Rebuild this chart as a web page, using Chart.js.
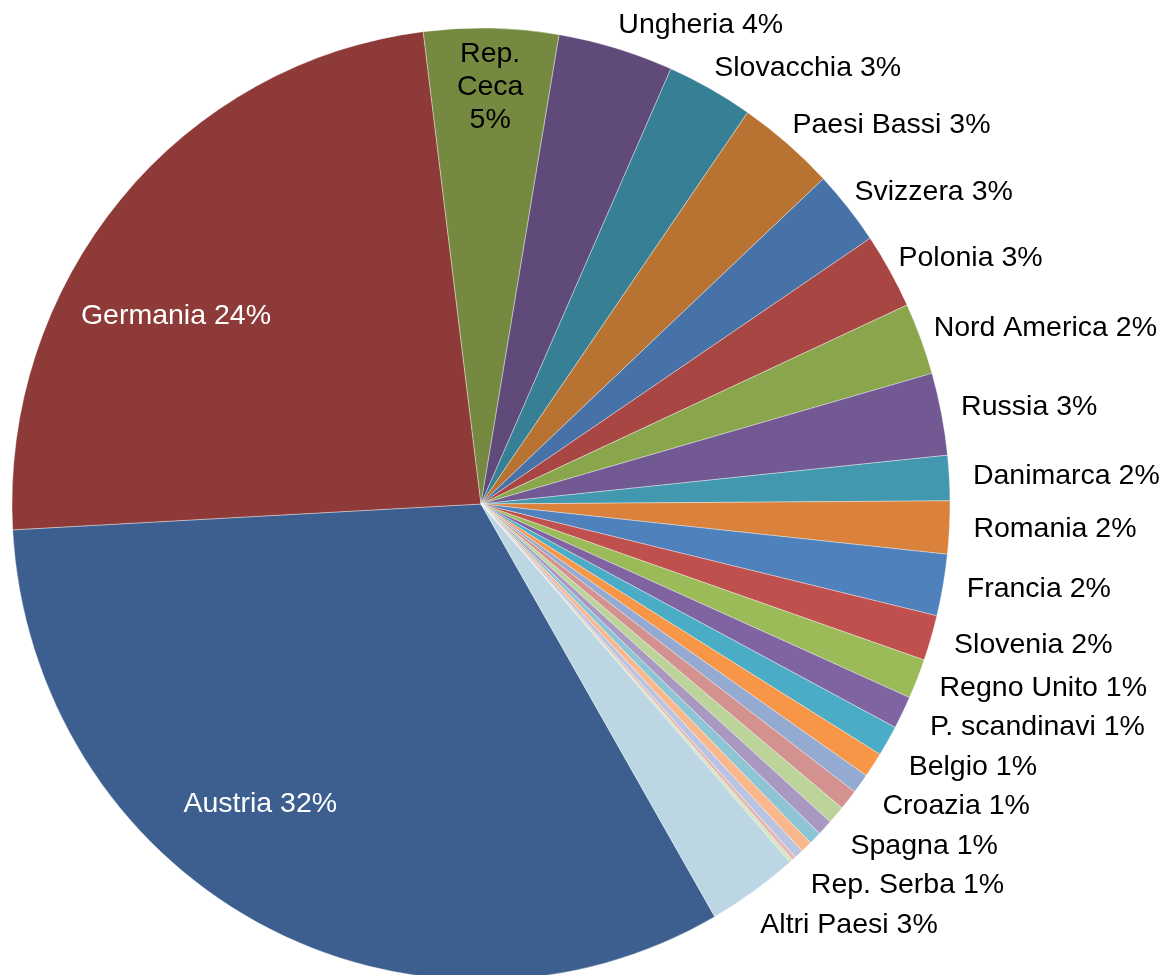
<!DOCTYPE html>
<html>
<head>
<meta charset="utf-8">
<script src="https://cdn.jsdelivr.net/npm/chart.js@4.4.1/dist/chart.umd.min.js"></script>
<style>
html,body{margin:0;padding:0;background:#ffffff;overflow:hidden}
#wrap{width:1162px;height:975px;position:relative}
canvas{display:block}
</style>
</head>
<body>
<div id="wrap"><canvas id="c" width="1162" height="975"></canvas></div>
<script>
// ---- data ----
const categories = ["Austria","Germania","Rep. Ceca","Ungheria","Slovacchia","Paesi Bassi","Svizzera","Polonia",
  "Nord America","Russia","Danimarca","Romania","Francia","Slovenia","Regno Unito","P. scandinavi","Belgio",
  "Croazia","Spagna","Rep. Serba","","","","","","","","Altri Paesi"];
const shares = [32.44,23.90,4.63,3.97,2.99,3.40,2.55,2.56,2.44,2.79,1.53,1.79,2.09,1.54,1.35,1.11,1.04,
  0.85,0.67,0.69,0.61,0.53,0.44,0.39,0.31,0.14,0.11,3.14];
const colors = ["#3C5F8F","#8E3A38","#758A40","#5F4A7A","#367F94","#B87333","#4672A8","#A84644",
  "#8AA64D","#725993","#4198AF","#DA823C","#4F81BD","#C0504D","#9BBB59","#8064A2","#4BACC6",
  "#F79646","#94AAD0","#D39190","#BCD399","#A998C0","#8EC5D4","#FAB78C","#B8C4E1","#E3B8B7","#D6E4BC","#BCD7E3"];

// ---- layout / style ----
const K = 476/469;            // slight vertical stretch of the pie as in the reference
const FONT = '28.5px "Liberation Sans", Arial, sans-serif';
const LINE = 33, GAP = 39.5, HALF_H = 16;
const OUT_LOW = 24, OUT_TOP_MIN = 8, OUT_TOP_EXTRA = 16, OUT_PUSH = 31;
const IN_R = 0.62, IN_RY = 0.675, IN_DX = 82, IN_DY = 18;

function lum(hex){const n=parseInt(hex.slice(1),16);return 0.2126*(n>>16)+0.7152*((n>>8)&255)+0.0722*(n&255);}

const stretch = {
  id:'stretch',
  beforeDatasetsDraw(chart){
    const a = chart.getDatasetMeta(0).data[0]; const ctx = chart.ctx;
    ctx.save(); ctx.translate(a.x,a.y); ctx.scale(1,K); ctx.translate(-a.x,-a.y);
  },
  afterDatasetsDraw(chart){ chart.ctx.restore(); }
};

const labels = {
  id:'labels',
  afterDraw(chart){
    const ctx = chart.ctx; const arcs = chart.getDatasetMeta(0).data;
    const total = shares.reduce((a,b)=>a+b,0);
    ctx.save(); ctx.font = FONT; ctx.textBaseline = 'middle';
    const outside = [];
    arcs.forEach((arc,i)=>{
      const name = categories[i]; if(!name) return;
      const text = name+' '+Math.round(shares[i]/total*100)+'%';
      const mid = (arc.startAngle+arc.endAngle)/2, ux = Math.cos(mid), uy = Math.sin(mid);
      const cx = arc.x, cy = arc.y, r = arc.outerRadius;
      if (shares[i]/total >= 0.045){
        ctx.fillStyle = lum(colors[i]) < 110 ? '#ffffff' : '#000000';
        ctx.textAlign = 'center';
        const w = ctx.measureText(text).width;
        const sweep = arc.endAngle-arc.startAngle;
        const chord = 2*r*0.8*Math.sin(Math.min(sweep,Math.PI)/2);
        if (w < chord){
          const x = cx + ux*r*IN_R + Math.sign(ux)*IN_DX;
          const y = cy + uy*r*K*IN_RY + IN_DY;
          ctx.fillText(text, x, y);
        } else {
          const lines = text.split(' ');
          const boxH = lines.length*LINE;
          const dist = r*K - boxH/2 - 10;
          const x = cx+ux*dist, y0 = cy+uy*dist - boxH/2 + LINE/2;
          lines.forEach((l,j)=>ctx.fillText(l, x, y0+j*LINE));
        }
      } else outside.push({text,ux,uy,cx,cy,r});
    });
    ctx.fillStyle = '#000000';
    let prevY = -Infinity;
    outside.forEach(o=>{
      let ax, ay;
      if (o.uy < 0){
        const d = OUT_TOP_MIN + OUT_TOP_EXTRA*Math.pow(Math.abs(o.ux),16);
        const R = o.r + d;
        ax = o.cx + R*o.ux; ay = o.cy + R*K*o.uy + HALF_H*o.uy;
      } else {
        const R = o.r + OUT_LOW;
        ax = o.cx + R*o.ux; ay = o.cy + R*K*o.uy;
      }
      if (ay < prevY + GAP){
        ay = prevY + GAP;
        const R = o.r + OUT_PUSH;
        const t = (ay-o.cy)/(R*K);
        ax = o.cx + Math.sign(o.ux||1)*R*Math.sqrt(Math.max(0,1-t*t));
      }
      ctx.textAlign = o.ux >= 0 ? 'left' : 'right';
      ctx.fillText(o.text, ax, ay);
      prevY = ay;
    });
    ctx.restore();
  }
};

new Chart(document.getElementById('c'), {
  type:'pie',
  data:{ labels: categories, datasets:[{ data: shares, backgroundColor: colors,
    borderColor:'rgba(255,255,255,0.45)', borderWidth:0.8, hoverOffset:0, offset:0, clip:false }]},
  options:{
    responsive:false, animation:false, devicePixelRatio:1, events:[],
    rotation:150.1, radius:469,
    layout:{padding:{left:12,right:212,top:33,bottom:0}},
    plugins:{legend:{display:false}, tooltip:{enabled:false}}
  },
  plugins:[stretch, labels]
});
</script>
</body>
</html>
